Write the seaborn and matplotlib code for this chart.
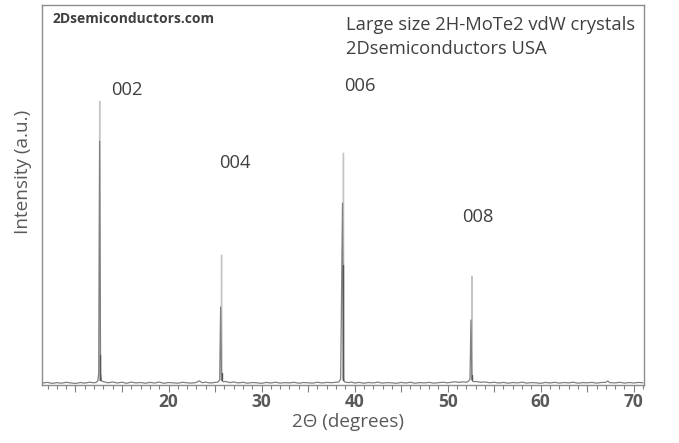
import matplotlib
matplotlib.use("Agg")
import matplotlib.pyplot as plt
import seaborn as sns
import pandas as pd
from matplotlib.ticker import FixedLocator, MultipleLocator

# ---- data (intensity in arbitrary units) ----
two_theta = [6.4, 7.0, 7.5, 8.0, 8.5, 9.0, 9.5, 10.0, 10.5, 11.0, 11.5, 12.0, 12.2, 12.4,
             12.5, 12.6, 12.7, 12.8, 13.0, 13.5, 14.0, 14.5, 15.0, 15.5, 16.0, 16.5,
             17.0, 17.5, 18.0, 18.5, 19.0, 19.5, 20.0, 20.5, 21.0, 21.5, 22.0, 22.5,
             23.0, 23.3, 23.6, 24.0, 24.5, 25.0, 25.3, 25.5, 25.6, 25.7, 25.8, 25.9,
             26.1, 26.6, 27.0, 27.5, 28.0, 28.5, 29.0, 29.5, 30.0, 30.5, 31.0, 31.5,
             32.0, 32.5, 33.0, 33.5, 34.0, 34.5, 35.0, 35.5, 36.0, 36.5, 37.0, 37.5,
             38.0, 38.3, 38.5, 38.7, 38.8, 38.9, 39.1, 39.3, 39.7, 40.0, 40.5, 41.0,
             41.5, 42.0, 42.5, 43.0, 43.5, 44.0, 44.5, 45.0, 45.5, 46.0, 46.5, 47.0,
             47.5, 48.0, 48.5, 49.0, 49.5, 50.0, 50.5, 50.8, 51.2, 51.6, 52.0, 52.2,
             52.4, 52.5, 52.6, 52.7, 52.8, 53.0, 53.5, 54.0, 54.5, 55.0, 55.5, 56.0,
             56.5, 57.0, 57.5, 58.0, 58.5, 59.0, 59.5, 60.0, 60.5, 61.0, 61.5, 62.0,
             62.5, 63.0, 63.5, 64.0, 64.5, 65.0, 65.5, 66.0, 66.5, 67.0, 67.2, 67.4,
             68.0, 68.5, 69.0, 69.5, 70.0, 70.5, 71.0]
intensity = [2.0, 2.6, 1.6, 2.4, 1.8, 2.7, 2.1, 1.5, 2.5, 1.9, 2.8, 2.2, 2.6, 4.0,
             12.0, 244.0, 12.0, 4.0, 3.4, 2.2, 3.0, 2.0, 2.8, 1.7, 2.9, 2.1,
             2.5, 1.8, 2.6, 2.0, 2.9, 1.7, 2.5, 2.1, 1.8, 2.7, 2.2, 1.9,
             2.6, 4.2, 2.3, 2.8, 2.0, 2.6, 2.9, 5.0, 78.0, 5.0, 3.8, 3.2,
             3.6, 2.4, 3.0, 2.1, 2.7, 1.8, 2.5, 2.2, 1.7, 2.6, 2.0, 2.8,
             1.9, 2.4, 2.1, 2.7, 1.8, 2.5, 2.2, 1.9, 2.8, 2.0, 2.6, 2.3,
             2.7, 3.0, 6.0, 182.0, 6.0, 3.2, 2.8, 2.4, 2.9, 2.0, 2.6, 1.8,
             2.5, 2.1, 2.8, 1.9, 2.4, 2.2, 1.7, 2.6, 2.0, 2.7, 1.8, 2.4,
             2.1, 2.6, 1.9, 2.3, 2.7, 2.2, 2.9, 3.2, 2.6, 3.1, 2.8, 3.4,
             6.0, 65.0, 6.0, 3.8, 3.2, 3.6, 2.8, 3.0, 2.3, 2.7, 2.0, 2.6,
             1.8, 2.5, 2.1, 2.8, 1.9, 2.4, 2.2, 1.7, 2.6, 2.0, 2.7, 1.9,
             2.5, 2.1, 2.8, 1.8, 2.4, 2.2, 2.6, 1.9, 2.5, 2.6, 4.0, 2.4,
             2.1, 2.7, 1.9, 2.5, 2.0, 2.6, 2.2]
peak_pos = [12.6, 25.7, 38.8, 52.6]
peak_top = [284.0, 130.0, 232.0, 109.0]
peak_inner = [30.0, 12.0, 120.0, 10.0]
peak_names = ["002", "004", "006", "008"]
label_pos = [(15.5, 295.0), (27.1, 222.0), (40.6, 299.0), (53.3, 168.0)]
major_ticks = [10, 15, 20, 25, 30, 35, 40, 45, 50, 55, 60, 65, 70]
major_labels = ["", "", "20", "", "30", "", "40", "", "50", "", "60", "", "70"]

sns.set_style("white")
plt.rcParams["font.family"] = ["Open Sans", "DejaVu Sans"]

fig = plt.figure(figsize=(6.79, 4.43), dpi=100)
ax = fig.add_axes([41.5 / 679, 58 / 443, (644 - 41.5) / 679, (385 - 5.3) / 443])

df = pd.DataFrame({"two_theta": two_theta, "intensity": intensity})

# light thin tops of the peaks
tops = []
for p, h in zip(peak_pos, peak_top):
    tops.append(pd.DataFrame({"two_theta": [p - 0.05, p, p + 0.05],
                              "intensity": [5.0, h, 5.0], "pk": str(p)}))
tops = pd.concat(tops)
sns.lineplot(data=tops, x="two_theta", y="intensity", units="pk", estimator=None,
             color="#c4c4c4", lw=1.0, ax=ax)
sns.lineplot(data=df, x="two_theta", y="intensity", color="#808080", lw=0.9,
             estimator=None, sort=False, ax=ax)
inner = []
for p, h in zip(peak_pos, peak_inner):
    inner.append(pd.DataFrame({"two_theta": [p, p], "intensity": [5.0, h], "pk": str(p)}))
inner = pd.concat(inner)
sns.lineplot(data=inner, x="two_theta", y="intensity", units="pk", estimator=None,
             color="#555555", lw=1.0, ax=ax)

ax.set_xlim(6.35, 71.1)
ax.set_ylim(0, 380)

for name, (lx, ly) in zip(peak_names, label_pos):
    ax.text(lx, ly, name, fontsize=13.2, color="#404040", ha="center", va="center")

ax.text(0.018, 0.963, "2Dsemiconductors.com", transform=ax.transAxes, fontsize=10,
        fontweight="bold", color="#404040", ha="left", va="center")
ax.text(0.506, 0.947, "Large size 2H-MoTe2 vdW crystals", transform=ax.transAxes,
        fontsize=13.2, color="#404040", ha="left", va="center")
ax.text(0.506, 0.884, "2Dsemiconductors USA", transform=ax.transAxes,
        fontsize=13.2, color="#404040", ha="left", va="center")

ax.xaxis.set_major_locator(FixedLocator(major_ticks))
ax.set_xticklabels(major_labels)
ax.xaxis.set_minor_locator(MultipleLocator(1))
ax.tick_params(axis="x", which="major", direction="out", length=5, width=0.8,
               color="#808080", labelsize=12.5, labelcolor="#595959", pad=0.5, bottom=True)
ax.tick_params(axis="x", which="minor", direction="out", length=3, width=0.8,
               color="#808080", bottom=True)
for lab in ax.get_xticklabels():
    lab.set_fontweight("bold")
ax.set_yticks([])

for s in ax.spines.values():
    s.set_color("#8c8c8c")
    s.set_linewidth(1.0)

ax.set_xlabel("2Θ (degrees)", fontsize=13.6, color="#595959")
ax.xaxis.set_label_coords(0.508, -0.097, transform=ax.transAxes)
ax.xaxis.label.set_va("center")
ax.set_ylabel("Intensity (a.u.)", fontsize=13.6, color="#595959")
ax.yaxis.set_label_coords(-0.03, 0.56, transform=ax.transAxes)
ax.yaxis.label.set_va("center")

fig.savefig("out.png", dpi=100)
